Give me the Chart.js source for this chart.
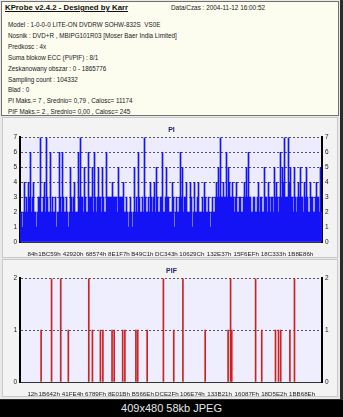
<!DOCTYPE html>
<html>
<head>
<meta charset="utf-8">
<title>KProbe PI/PIF</title>
<script src="https://cdn.jsdelivr.net/npm/chart.js@4.4.1/dist/chart.umd.min.js"></script>
<style>
  body { margin: 0; width: 343px; height: 417px; background: #2b2b2b; overflow: hidden; position: relative; font-family: 'Liberation Sans', Arial, sans-serif; }
  #frame { position: absolute; left: 0; top: 0; width: 340px; height: 399px; background: #e9e9e9; }
  #header { position: absolute; left: 1px; top: 1px; width: 336px; height: 113px; background: #fcfcef; border: 1px solid #707070; }
  #header .title { position: absolute; left: 3px; top: 1px; font-size: 7.8px; font-weight: bold; text-decoration: underline; color: #111; }
  #header .date { position: absolute; left: 169px; top: 2px; font-size: 6.4px; color: #222; }
  #header .lines { position: absolute; left: 6px; top: 18px; font-size: 6.3px; line-height: 10.9px; color: #222; white-space: pre; }
  .panel { position: absolute; left: 2px; width: 334px; background: #f3f3f3; border: 1px solid #c9c9c9; }
  #p1 { top: 117px; height: 139px; }
  #p2 { top: 259px; height: 136px; }
  canvas { position: absolute; left: 0; }
  #c1 { top: 118px; }
  #c2 { top: 259px; }
  #footer { position: absolute; left: 0; top: 400px; width: 343px; height: 17px; background: #000; color: #e6e6e6; font-size: 11px; line-height: 17px; text-align: center; }
</style>
</head>
<body>
<div id="frame"></div>
<div id="header">
  <div class="title">KProbe v2.4.2 - Designed by Karr</div>
  <div class="date">Data/Czas : 2004-11-12 16:00:52</div>
  <div class="lines">Model : 1-0-0-0 LITE-ON DVDRW SOHW-832S  VS0E
Nosnik : DVD+R , MBIPG101R03 [Moser Baer India Limited]
Predkosc : 4x
Suma blokow ECC (PI/PIF) : 8/1
Zeskanowany obszar : 0 - 1865776
Sampling count : 104332
Blad : 0
PI Maks.= 7 , Srednio= 0,79 , Calosc= 11174
PIF Maks.= 2 , Srednio= 0,00 , Calosc= 245</div>
</div>
<div class="panel" id="p1"></div>
<div class="panel" id="p2"></div>
<canvas id="c1" width="343" height="140"></canvas>
<canvas id="c2" width="343" height="139"></canvas>
<div id="footer">409x480 58kb JPEG</div>
<script>
// scanned range (sectors)
const scanEnd = 1865776;

// PI error counts per sample column left to right
const piValues = [
  2,2, 1,2, 4,2, 3,2, 4,3, 6,2, 3,4, 2,2, 1,2, 3,3, 7,2, 2,3, 4,2, 7,3, 2,2, 6,2, 3,2, 2,3, 1,2, 2,6,
  3,2, 6,3, 2,2, 3,2, 1,2, 5,3, 2,3, 4,2, 2,2, 6,3, 7,3, 3,2, 5,3, 2,2, 6,3, 3,3, 5,2, 6,3, 2,3, 5,3,
  3,2, 5,3, 2,2, 6,3, 3,3, 3,3, 4,3, 3,3, 3,2, 5,3, 3,3, 3,4, 2,2, 3,2, 1,2, 3,2, 1,2, 5,2, 3,2, 6,3,
  2,2, 3,2, 7,3, 2,2, 3,2, 4,3, 2,3, 4,2, 5,3, 2,2, 3,3, 6,2, 2,3, 5,3, 3,2, 2,2, 4,3, 1,2, 3,2, 2,3,
  6,3, 5,2, 3,3, 4,2, 2,2, 4,3, 1,2, 4,2, 2,3, 4,2, 2,2, 3,2, 4,3, 2,2, 3,2, 1,2, 3,2, 2,3, 4,3, 5,3,
  7,3, 3,4, 3,3, 6,3, 5,4, 3,3, 4,3, 2,3, 4,2, 2,3, 3,2, 2,3, 4,3, 5,3, 6,3, 3,2, 2,3, 3,2, 2,3, 4,2,
  3,3, 2,2, 5,3, 3,2, 4,3, 2,3, 3,2, 5,3, 4,3, 2,3, 6,3, 5,4, 7,3, 3,3, 7,4, 5,3, 3,2, 5,3, 2,3, 4,3,
  5,3, 3,2, 4,3, 5,3, 2,2, 4,3, 3,2, 2,3, 4,3, 3,2, 5,2
];
const piTickLabels = ['84h', '1BC59h', '42920h', '68574h', '8E1F7h', 'B49C1h', 'DC343h',
  '10629Ch', '132E37h', '15F6EFh', '18C333h', '1B8E86h'];

// PIF errors: sector address (estimated) and count
const pifAddr = [57500, 127900, 189700, 241000, 378700, 403400, 457200, 473900, 535600, 549900,
  607300, 622100, 696300, 708600, 772300, 881600, 951400, 1013200, 1163300, 1317800,
  1334500, 1342500, 1503100, 1544500, 1637200, 1657600, 1672400, 1734200, 1765100];
const pifValues = [1, 2, 2, 1, 2, 1, 1, 1, 1, 1,
  1, 1, 1, 1, 1, 2, 1, 2, 1, 1,
  2, 1, 2, 1, 1, 1, 1, 1, 2];
const pifTickLabels = ['12h', '1B642h', '41FE4h', '6789Fh', '8E01Bh', 'B566Eh', 'DCE2Fh',
  '106E74h', '133B21h', '16087Fh', '18D5E2h', '1BB68Eh'];

const tickFont = { family: "'Liberation Sans', Arial, sans-serif", size: 6.2 };

// plot area background
const plotBg = {
  id: 'plotBg',
  beforeDraw(chart, args, opts) {
    const { ctx, chartArea } = chart;
    ctx.save();
    ctx.fillStyle = opts.color;
    ctx.fillRect(chartArea.left, chartArea.top, chartArea.right - chartArea.left, chartArea.bottom - chartArea.top);
    ctx.restore();
  }
};

function yAxis(max, position, withGrid, width) {
  return {
    position: position,
    min: 0,
    max: max,
    ticks: { stepSize: 1, font: { ...tickFont, size: 6.5 }, color: '#222', padding: 3 },
    grid: { display: withGrid, color: '#555', drawTicks: false },
    border: { display: true, color: '#000', width: 2, dash: [2, 2] },
    afterFit: (scale) => { scale.width = width; }
  };
}

function addrAxis(labels) {
  return {
    type: 'linear',
    position: 'bottom',
    min: 0,
    max: scanEnd,
    grid: { display: false },
    border: { display: true, color: '#333', width: 1 },
    ticks: {
      autoSkip: false,
      maxRotation: 0,
      minRotation: 0,
      font: tickFont,
      color: '#222',
      padding: 1,
      callback: (value, index) => labels[index]
    },
    afterBuildTicks: (scale) => {
      scale.ticks = labels.map(l => ({ value: parseInt(l, 16) }));
    },
    afterFit: (scale) => { scale.height = 16; }
  };
}

function titleOpts(text) {
  return {
    display: true,
    text: text,
    color: '#1c1c66',
    font: { family: "'Liberation Sans', Arial, sans-serif", size: 7, weight: 'bold' },
    padding: { top: 8, bottom: 3 }
  };
}

new Chart(document.getElementById('c1'), {
  type: 'bar',
  data: {
    labels: piValues.map((v, i) => i),
    datasets: [{
      data: piValues,
      xAxisID: 'x',
      yAxisID: 'y',
      backgroundColor: '#1414f6',
      borderWidth: 0,
      barPercentage: 1,
      categoryPercentage: 1
    }]
  },
  options: {
    responsive: false,
    animation: false,
    plugins: {
      legend: { display: false },
      tooltip: { enabled: false },
      title: titleOpts('PI'),
      plotBg: { color: '#ececfe' }
    },
    scales: {
      x: { type: 'category', display: false },
      addr: addrAxis(piTickLabels),
      y: yAxis(7, 'left', true, 20),
      y2: yAxis(7, 'right', false, 21)
    }
  },
  plugins: [plotBg]
});

new Chart(document.getElementById('c2'), {
  type: 'bar',
  data: {
    datasets: [{
      data: pifAddr.map((a, i) => ({ x: a, y: pifValues[i] })),
      xAxisID: 'addr',
      yAxisID: 'y',
      backgroundColor: '#cc2222',
      borderWidth: 0,
      barThickness: 1
    }]
  },
  options: {
    responsive: false,
    animation: false,
    plugins: {
      legend: { display: false },
      tooltip: { enabled: false },
      title: titleOpts('PIF'),
      plotBg: { color: '#eeeeff' }
    },
    scales: {
      addr: addrAxis(pifTickLabels),
      y: yAxis(2, 'left', true, 20),
      y2: yAxis(2, 'right', false, 21)
    }
  },
  plugins: [plotBg]
});
</script>
</body>
</html>
